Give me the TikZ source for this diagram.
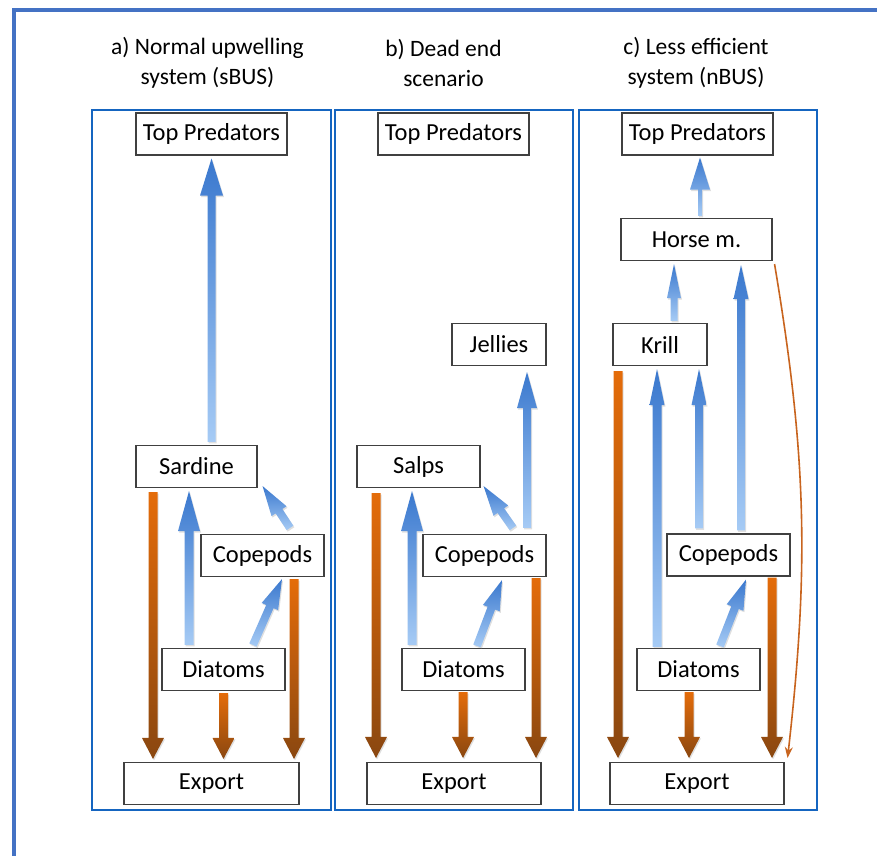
\documentclass[tikz,border=0pt]{standalone}
\usepackage{fontspec}
\setmainfont{Carlito}
\usepackage{tikz}
\usetikzlibrary{calc,shadows,arrows.meta}

\definecolor{frameblue}{HTML}{4472C4}
\definecolor{panelblue}{HTML}{1565C0}
\definecolor{bluedark}{HTML}{3A78CE}
\definecolor{bluelight}{HTML}{A6CBF5}
\definecolor{orangetop}{HTML}{E46C0A}
\definecolor{orangebot}{HTML}{8A4710}
\definecolor{leakorange}{HTML}{C8641E}

% block arrow: [style]{start}{end}{half shaft}{half head}{head length}
\newcommand{\flowarrow}[6][]{%
  \path[#1] let \p1=#2, \p2=#3,
    \n1={atan2(\y2-\y1,\x2-\x1)}, \n2={veclen(\x2-\x1,\y2-\y1)} in
    ($(\p1)+(\n1+90:#4)$) -- ($(\p1)+(\n1:\n2-#6)+(\n1+90:#4)$)
    -- ($(\p1)+(\n1:\n2-#6)+(\n1+90:#5)$) -- (\p2)
    -- ($(\p1)+(\n1:\n2-#6)+(\n1-90:#5)$) -- ($(\p1)+(\n1:\n2-#6)+(\n1-90:#4)$)
    -- ($(\p1)+(\n1-90:#4)$) -- cycle;}

\begin{document}
\begin{tikzpicture}[x=1pt, y=-1pt,
    box/.style={draw=black!75, fill=white, line width=1.1pt, minimum height=42pt, inner sep=0pt, font=\fontsize{24.5}{28}\selectfont},
    heading/.style={align=center, inner sep=0pt, font=\fontsize{23.5}{30}\selectfont},
    panel/.style={draw=panelblue, line width=2pt},
    upflow/.style={top color=bluedark, bottom color=bluelight, drop shadow={shadow xshift=1pt, shadow yshift=-1.5pt, opacity=.25}},
    downflow/.style={top color=orangetop, bottom color=orangebot, drop shadow={shadow xshift=1pt, shadow yshift=-1.5pt, opacity=.25}},
    leak/.style={draw=leakorange, line width=1.6pt, -{Stealth[length=11pt, width=8pt]}}]
    \clip (0, 0) rectangle (877, 855);
    \draw[frameblue, line width=4.5pt] (14, 10) rectangle (900, 900);

    \draw[panel] (92, 110) rectangle (331, 810);
    \draw[panel] (335, 110) rectangle (573, 810);
    \draw[panel] (579, 110) rectangle (817, 810);

    \node[heading] at (207.5, 63) (titleA) {a) Normal upwelling\\system (sBUS)};
    \node[heading] at (443.5, 63) (titleB) {b) Dead end\\scenario};
    \node[heading] at (696, 63) (titleC) {c) Less efficient\\system (nBUS)};

    % a) sBUS
    \node[box, minimum width=151pt] at (211.5, 134) (topA) {Top Predators};
    \node[box, minimum width=121pt] at (196.5, 466.5) (sardA) {Sardine};
    \node[box, minimum width=123pt] at (262.5, 555.5) (copA) {Copepods};
    \node[box, minimum width=123pt] at (223.5, 669.5) (diaA) {Diatoms};
    \node[box, minimum width=175pt] at (211.5, 783.5) (expA) {Export};

    \flowarrow[upflow]{($(topA.south |- sardA.north)+(0pt,3pt)$)}{($(topA.south)+(0pt,-3pt)$)}{4pt}{11.5pt}{37pt}
    \flowarrow[upflow]{($(diaA.north)+(-34.5pt,3pt)$)}{($(sardA.south)+(-7.5pt,-3pt)$)}{4.5pt}{11pt}{40pt}
    \flowarrow[upflow]{($(copA.north)+(27.5pt,6pt)$)}{($(sardA.south east)+(5pt,2pt)$)}{4pt}{9pt}{30pt}
    \flowarrow[upflow]{($(diaA.north)+(29.5pt,3pt)$)}{($(copA.south)+(19.5pt,-2pt)$)}{4pt}{9pt}{30pt}
    \flowarrow[downflow]{($(sardA.south)+(-43.5pt,-4pt)$)}{($(sardA.south |- expA.north)+(-43.5pt,3pt)$)}{4.5pt}{11pt}{21pt}
    \flowarrow[downflow]{($(diaA.south)+(0pt,-2pt)$)}{($(diaA.south |- expA.north)+(0pt,3pt)$)}{4.5pt}{11pt}{21pt}
    \flowarrow[downflow]{($(copA.south)+(31.5pt,-2pt)$)}{($(copA.south |- expA.north)+(31.5pt,3pt)$)}{4.5pt}{11pt}{21pt}

    % b) dead end
    \node[box, minimum width=151pt] at (453.5, 134) (topB) {Top Predators};
    \node[box, minimum width=94pt] at (499, 344.5) (jelB) {Jellies};
    \node[box, minimum width=123pt] at (418.5, 466.5) (salB) {Salps};
    \node[box, minimum width=123pt] at (484.5, 555.5) (copB) {Copepods};
    \node[box, minimum width=123pt] at (463.5, 669.5) (diaB) {Diatoms};
    \node[box, minimum width=174pt] at (454, 783.5) (expB) {Export};

    \flowarrow[upflow]{($(jelB.south |- copB.north)+(28pt,6pt)$)}{($(jelB.south)+(28pt,-6pt)$)}{4pt}{10pt}{36pt}
    \flowarrow[upflow]{($(copB.north)+(28.5pt,6pt)$)}{($(salB.south east)+(3pt,2pt)$)}{4pt}{9pt}{30pt}
    \flowarrow[upflow]{($(salB.south |- diaB.north)+(-6.5pt,3pt)$)}{($(salB.south)+(-6.5pt,-3pt)$)}{4.5pt}{11pt}{40pt}
    \flowarrow[upflow]{($(diaB.north)+(13.5pt,2pt)$)}{($(copB.south)+(17.5pt,-3pt)$)}{4pt}{9pt}{30pt}
    \flowarrow[downflow]{($(salB.south)+(-42.5pt,-5pt)$)}{($(salB.south |- expB.north)+(-42.5pt,4pt)$)}{4.5pt}{11pt}{21pt}
    \flowarrow[downflow]{($(diaB.south)+(-0.5pt,-1pt)$)}{($(diaB.south |- expB.north)+(-0.5pt,4pt)$)}{4.5pt}{11pt}{21pt}
    \flowarrow[downflow]{($(copB.south)+(51.5pt,-1pt)$)}{($(copB.south |- expB.north)+(51.5pt,4pt)$)}{4.5pt}{11pt}{21pt}

    % c) nBUS
    \node[box, minimum width=151pt] at (697.5, 134) (topC) {Top Predators};
    \node[box, minimum width=151pt] at (696.5, 239.5) (horC) {Horse m.};
    \node[box, minimum width=94pt] at (660, 344.5) (krlC) {Krill};
    \node[box, minimum width=123pt] at (728.5, 555) (copC) {Copepods};
    \node[box, minimum width=123pt] at (698.5, 669.5) (diaC) {Diatoms};
    \node[box, minimum width=174pt] at (697, 783.5) (expC) {Export};

    \flowarrow[upflow]{($(horC.north)+(3.5pt,2pt)$)}{($(horC.north |- topC.south)+(3.5pt,-2pt)$)}{2pt}{10pt}{32pt}
    \flowarrow[upflow]{($(krlC.north)+(14pt,2pt)$)}{($(krlC.north |- horC.south)+(14pt,-3pt)$)}{3.5pt}{7pt}{34pt}
    \flowarrow[upflow]{($(copC.north)+(12.5pt,3pt)$)}{($(copC.north |- horC.south)+(12.5pt,-4pt)$)}{4pt}{7.5pt}{34pt}
    \flowarrow[upflow]{($(diaC.north)+(-41.5pt,1pt)$)}{($(diaC.north |- krlC.south)+(-41.5pt,-3pt)$)}{4.5pt}{7.5pt}{36pt}
    \flowarrow[upflow]{($(copC.north)+(-29.5pt,5pt)$)}{($(copC.north |- krlC.south)+(-29.5pt,-3pt)$)}{4pt}{7.5pt}{36pt}
    \flowarrow[upflow]{($(diaC.north)+(21.5pt,2pt)$)}{($(copC.south)+(17.5pt,-3pt)$)}{4pt}{9pt}{30pt}
    \flowarrow[downflow]{($(krlC.south)+(-42pt,-5pt)$)}{($(krlC.south |- expC.north)+(-42pt,4pt)$)}{4.5pt}{11pt}{21pt}
    \flowarrow[downflow]{($(diaC.south)+(-9.5pt,-1pt)$)}{($(diaC.south |- expC.north)+(-9.5pt,4pt)$)}{4.5pt}{11pt}{21pt}
    \flowarrow[downflow]{($(copC.south)+(43.5pt,-1pt)$)}{($(copC.south |- expC.north)+(43.5pt,4pt)$)}{4.5pt}{11pt}{21pt}
    \draw[leak] ([xshift=2pt, yshift=-3pt]horC.south east) to[bend left=8] ([xshift=3pt, yshift=4pt]expC.north east);
\end{tikzpicture}
\end{document}
